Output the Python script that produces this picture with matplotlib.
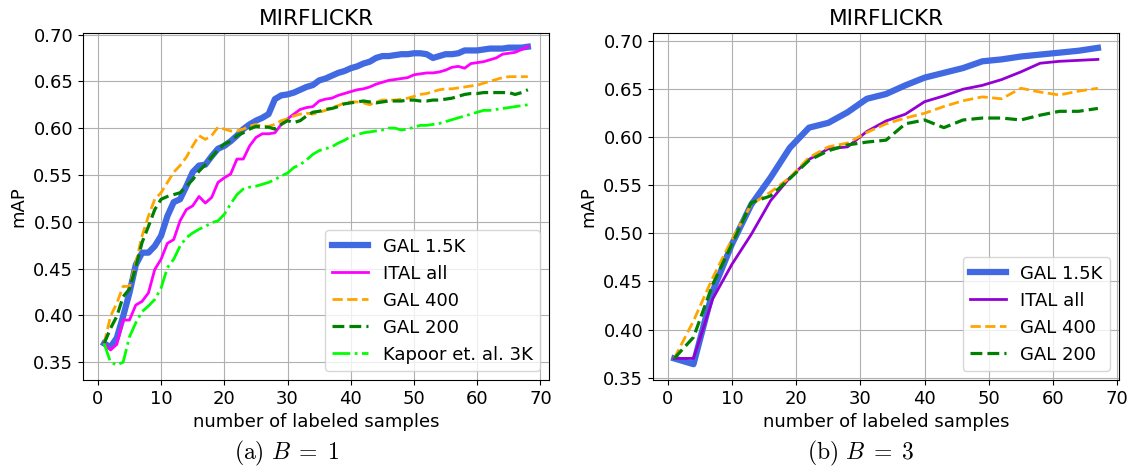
import matplotlib
matplotlib.use("Agg")
import matplotlib.pyplot as plt

plt.rcParams['font.size'] = 13
plt.rcParams['mathtext.fontset'] = 'cm'

# B = 1 (one sample per step)
x_b1 = list(range(1, 69))
gal15k_b1 = [0.370, 0.366, 0.376, 0.399, 0.424, 0.454, 0.467, 0.467, 0.474, 0.485,
             0.506, 0.521, 0.524, 0.538, 0.553, 0.560, 0.561, 0.570, 0.578, 0.581,
             0.586, 0.592, 0.599, 0.604, 0.608, 0.611, 0.615, 0.631, 0.635, 0.636,
             0.638, 0.641, 0.644, 0.646, 0.651, 0.653, 0.656, 0.659, 0.661, 0.664,
             0.666, 0.669, 0.671, 0.675, 0.677, 0.677, 0.678, 0.679, 0.679, 0.680,
             0.680, 0.679, 0.675, 0.677, 0.679, 0.679, 0.680, 0.683, 0.683, 0.683,
             0.684, 0.685, 0.685, 0.685, 0.686, 0.686, 0.686, 0.687]
ital_b1 = [0.370, 0.363, 0.369, 0.395, 0.395, 0.411, 0.415, 0.424, 0.449, 0.460,
           0.477, 0.481, 0.501, 0.513, 0.517, 0.527, 0.520, 0.526, 0.542, 0.547,
           0.551, 0.567, 0.567, 0.581, 0.590, 0.594, 0.594, 0.595, 0.604, 0.610,
           0.615, 0.620, 0.622, 0.623, 0.629, 0.631, 0.632, 0.635, 0.637, 0.639,
           0.641, 0.642, 0.644, 0.647, 0.649, 0.651, 0.652, 0.653, 0.654, 0.657,
           0.658, 0.659, 0.659, 0.660, 0.662, 0.665, 0.666, 0.664, 0.669, 0.670,
           0.671, 0.673, 0.675, 0.679, 0.680, 0.681, 0.684, 0.687]
gal400_b1 = [0.370, 0.399, 0.413, 0.431, 0.431, 0.456, 0.485, 0.506, 0.524, 0.531,
             0.542, 0.553, 0.560, 0.569, 0.581, 0.592, 0.588, 0.592, 0.601, 0.599,
             0.597, 0.597, 0.599, 0.602, 0.604, 0.602, 0.602, 0.604, 0.608, 0.610,
             0.613, 0.615, 0.616, 0.615, 0.617, 0.619, 0.622, 0.624, 0.627, 0.628,
             0.628, 0.627, 0.625, 0.628, 0.630, 0.630, 0.630, 0.631, 0.632, 0.634,
             0.636, 0.637, 0.639, 0.641, 0.642, 0.642, 0.643, 0.644, 0.645, 0.646,
             0.648, 0.650, 0.652, 0.654, 0.655, 0.655, 0.655, 0.655]
gal200_b1 = [0.370, 0.386, 0.399, 0.420, 0.428, 0.452, 0.478, 0.495, 0.513, 0.524,
             0.527, 0.529, 0.531, 0.538, 0.545, 0.554, 0.561, 0.569, 0.577, 0.583,
             0.586, 0.592, 0.595, 0.599, 0.602, 0.601, 0.601, 0.599, 0.604, 0.608,
             0.606, 0.608, 0.613, 0.617, 0.618, 0.620, 0.621, 0.623, 0.626, 0.627,
             0.628, 0.629, 0.628, 0.627, 0.628, 0.629, 0.629, 0.629, 0.630, 0.630,
             0.629, 0.629, 0.630, 0.630, 0.631, 0.632, 0.634, 0.636, 0.637, 0.637,
             0.638, 0.638, 0.638, 0.638, 0.638, 0.636, 0.638, 0.641]
kapoor_b1 = [0.370, 0.350, 0.347, 0.350, 0.377, 0.392, 0.404, 0.410, 0.417, 0.429,
             0.451, 0.460, 0.474, 0.483, 0.488, 0.492, 0.495, 0.499, 0.501, 0.508,
             0.519, 0.529, 0.535, 0.537, 0.538, 0.540, 0.542, 0.545, 0.549, 0.552,
             0.558, 0.561, 0.566, 0.572, 0.576, 0.578, 0.580, 0.584, 0.587, 0.591,
             0.593, 0.595, 0.596, 0.597, 0.598, 0.600, 0.600, 0.598, 0.599, 0.601,
             0.603, 0.603, 0.604, 0.605, 0.607, 0.609, 0.611, 0.613, 0.615, 0.617,
             0.619, 0.619, 0.620, 0.621, 0.622, 0.623, 0.624, 0.625]

# B = 3 (three samples per step)
x_b3 = list(range(1, 68, 3))
gal15k_b3 = [0.370, 0.364, 0.440, 0.489, 0.530, 0.558, 0.589, 0.610, 0.615, 0.626,
             0.640, 0.645, 0.654, 0.662, 0.667, 0.672, 0.679, 0.681, 0.684, 0.686,
             0.688, 0.690, 0.693]
ital_b3 = [0.370, 0.370, 0.432, 0.468, 0.499, 0.534, 0.558, 0.577, 0.588, 0.590,
           0.606, 0.617, 0.624, 0.637, 0.643, 0.650, 0.654, 0.660, 0.668, 0.677,
           0.679, 0.680, 0.681]
gal400_b3 = [0.370, 0.409, 0.454, 0.494, 0.530, 0.543, 0.558, 0.579, 0.590, 0.594,
             0.605, 0.614, 0.620, 0.625, 0.632, 0.638, 0.642, 0.640, 0.651, 0.647,
             0.644, 0.648, 0.651]
gal200_b3 = [0.370, 0.392, 0.447, 0.489, 0.532, 0.539, 0.557, 0.576, 0.586, 0.592,
             0.595, 0.597, 0.614, 0.618, 0.610, 0.618, 0.620, 0.620, 0.618, 0.623,
             0.627, 0.627, 0.630]

fig = plt.figure(figsize=(11.32, 4.72), dpi=100)
ax1 = fig.add_axes([0.0733, 0.195, 0.4117, 0.735])
ax2 = fig.add_axes([0.5769, 0.195, 0.4117, 0.735])

# left panel
ax1.plot(x_b1, gal15k_b1, color='royalblue', lw=4.5, label='GAL 1.5K')
ax1.plot(x_b1, ital_b1, color='magenta', lw=2, label='ITAL all')
ax1.plot(x_b1, gal400_b1, color='orange', lw=2, ls='--', label='GAL 400')
ax1.plot(x_b1, gal200_b1, color='green', lw=2.3, ls='--', label='GAL 200')
ax1.plot(x_b1, kapoor_b1, color='lime', lw=2, ls='-.', label='Kapoor et. al. 3K')
ax1.set_xlim(-2.35, 71.35)
ax1.set_ylim(0.331, 0.7016)
ax1.set_yticks([0.35, 0.40, 0.45, 0.50, 0.55, 0.60, 0.65, 0.70])

# right panel
ax2.plot(x_b3, gal15k_b3, color='royalblue', lw=4.5, label='GAL 1.5K')
ax2.plot(x_b3, ital_b3, color='darkviolet', lw=2, label='ITAL all')
ax2.plot(x_b3, gal400_b3, color='orange', lw=2, ls='--', label='GAL 400')
ax2.plot(x_b3, gal200_b3, color='green', lw=2.3, ls='--', label='GAL 200')
ax2.set_xlim(-2.3, 70.3)
ax2.set_ylim(0.3476, 0.7084)
ax2.set_yticks([0.35, 0.40, 0.45, 0.50, 0.55, 0.60, 0.65, 0.70])

for ax in (ax1, ax2):
    ax.set_title('MIRFLICKR', fontsize=15.6)
    ax.set_xlabel('number of labeled samples')
    ax.set_ylabel('mAP')
    ax.set_xticks([0, 10, 20, 30, 40, 50, 60, 70])
    ax.yaxis.set_major_formatter(matplotlib.ticker.FormatStrFormatter('%.2f'))
    ax.grid(True)
    ax.legend(loc='lower right')

# sub-captions under each panel
fig.text(0.253, 0.040, r'$\mathrm{(a)}\ B\;=\;1$', fontsize=17, ha='center', va='center')
fig.text(0.760, 0.040, r'$\mathrm{(b)}\ B\;=\;3$', fontsize=17, ha='center', va='center')

fig.savefig('out.png', dpi=100)
